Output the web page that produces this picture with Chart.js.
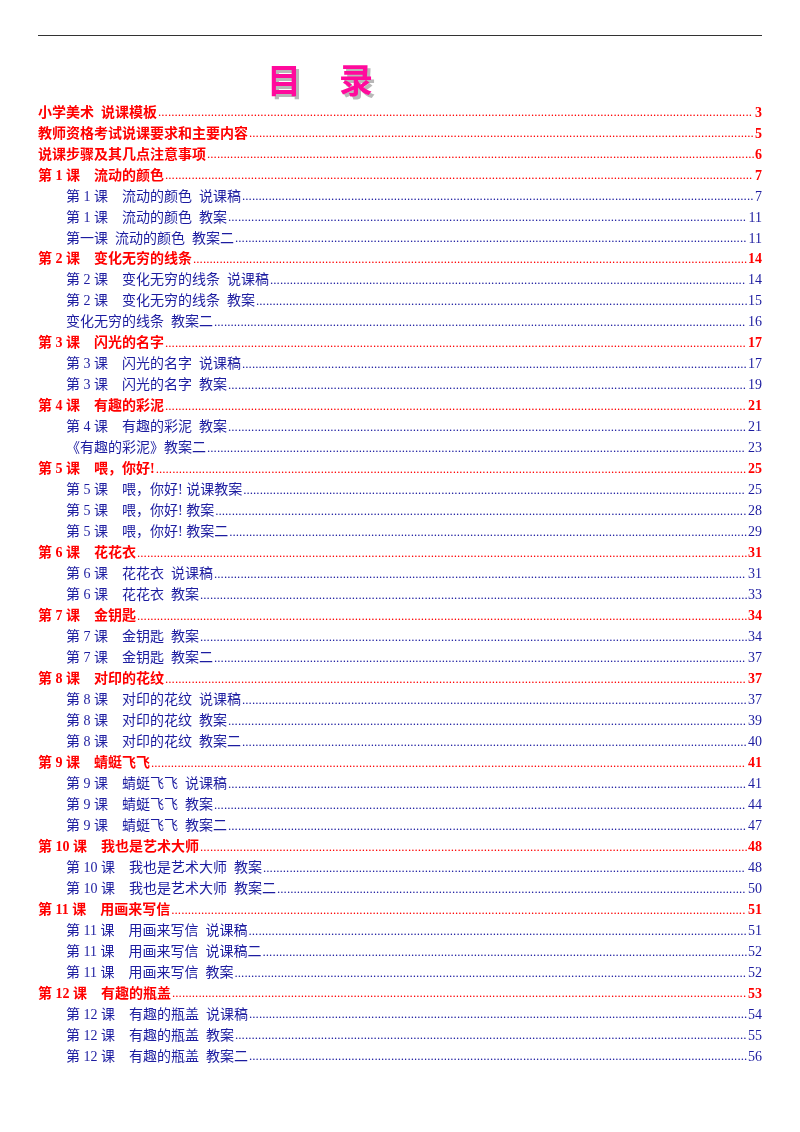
<!DOCTYPE html>
<html>
<head>
<meta charset="utf-8">
<script src="https://cdn.jsdelivr.net/npm/chart.js@4"></script>
<style>
  body { margin: 0; background: #fff; }
  canvas { display: block; }
</style>
</head>
<body>
<canvas id="toc" width="800" height="1132"></canvas>
<script>
// table of contents entries
const titles = [
  '小学美术  说课模板', '教师资格考试说课要求和主要内容', '说课步骤及其几点注意事项',
  '第 1 课    流动的颜色', '第 1 课    流动的颜色  说课稿', '第 1 课    流动的颜色  教案', '第一课  流动的颜色  教案二',
  '第 2 课    变化无穷的线条', '第 2 课    变化无穷的线条  说课稿', '第 2 课    变化无穷的线条  教案', '变化无穷的线条  教案二',
  '第 3 课    闪光的名字', '第 3 课    闪光的名字  说课稿', '第 3 课    闪光的名字  教案',
  '第 4 课    有趣的彩泥', '第 4 课    有趣的彩泥  教案', '《有趣的彩泥》教案二',
  '第 5 课    喂，你好!', '第 5 课    喂，你好! 说课教案', '第 5 课    喂，你好! 教案', '第 5 课    喂，你好! 教案二',
  '第 6 课    花花衣', '第 6 课    花花衣  说课稿', '第 6 课    花花衣  教案',
  '第 7 课    金钥匙', '第 7 课    金钥匙  教案', '第 7 课    金钥匙  教案二',
  '第 8 课    对印的花纹', '第 8 课    对印的花纹  说课稿', '第 8 课    对印的花纹  教案', '第 8 课    对印的花纹  教案二',
  '第 9 课    蜻蜓飞飞', '第 9 课    蜻蜓飞飞  说课稿', '第 9 课    蜻蜓飞飞  教案', '第 9 课    蜻蜓飞飞  教案二',
  '第 10 课    我也是艺术大师', '第 10 课    我也是艺术大师  教案', '第 10 课    我也是艺术大师  教案二',
  '第 11 课    用画来写信', '第 11 课    用画来写信  说课稿', '第 11 课    用画来写信  说课稿二', '第 11 课    用画来写信  教案',
  '第 12 课    有趣的瓶盖', '第 12 课    有趣的瓶盖  说课稿', '第 12 课    有趣的瓶盖  教案', '第 12 课    有趣的瓶盖  教案二'
];
const pages = [3, 5, 6, 7, 7, 11, 11, 14, 14, 15, 16, 17, 17, 19, 21, 21, 23, 25, 25, 28, 29,
  31, 31, 33, 34, 34, 37, 37, 37, 39, 40, 41, 41, 44, 47, 48, 48, 50, 51, 51, 52, 52, 53, 54, 55, 56];
const levels = [0, 0, 0, 0, 1, 1, 1, 0, 1, 1, 1, 0, 1, 1, 0, 1, 1, 0, 1, 1, 1,
  0, 1, 1, 0, 1, 1, 0, 1, 1, 1, 0, 1, 1, 1, 0, 1, 1, 0, 1, 1, 1, 0, 1, 1, 1];

const tocPlugin = {
  id: 'toc',
  afterDatasetsDraw(chart) {
    const ctx = chart.ctx;
    const yScale = chart.scales.y;
    const area = chart.chartArea;
    ctx.save();

    // top rule
    ctx.strokeStyle = '#333';
    ctx.lineWidth = 1.2;
    ctx.beginPath();
    ctx.moveTo(38, 35.5);
    ctx.lineTo(762, 35.5);
    ctx.stroke();

    // title with shadow
    ctx.font = 'bold 34px "Noto Sans CJK SC"';
    ctx.textBaseline = 'middle';
    ctx.textAlign = 'center';
    [['目', 284], ['录', 356]].forEach(([ch, x]) => {
      ctx.fillStyle = '#b8b8b8';
      ctx.fillText(ch, x + 3, 83);
      ctx.fillStyle = '#ff0a9c';
      ctx.fillText(ch, x, 80);
    });

    titles.forEach((t, i) => {
      const y = yScale.getPixelForValue(i);
      const top = levels[i] === 0;
      const color = top ? '#ff0000' : '#1c1ca0';
      ctx.font = (top ? 'bold ' : '') + '14px "Liberation Serif", "Noto Sans CJK SC"';
      ctx.fillStyle = color;
      ctx.textAlign = 'left';
      const x0 = top ? area.left : area.left + 28;
      ctx.fillText(t, x0, y);
      const tw = ctx.measureText(t).width;
      const num = String(pages[i]);
      const nw = ctx.measureText(num).width;
      ctx.textAlign = 'right';
      ctx.fillText(num, area.right, y);
      // leader dots
      ctx.font = '13px "Liberation Serif"';
      const dw = 3.3;
      ctx.textAlign = 'left';
      for (let x = x0 + tw + 1; x < area.right - nw - dw; x += dw) {
        ctx.fillText('.', x, y);
      }
    });
    ctx.restore();
  }
};

new Chart(document.getElementById('toc'), {
  type: 'scatter',
  data: {
    datasets: [{
      data: pages.map((p, i) => ({ x: p, y: i })),
      pointRadius: 0
    }]
  },
  options: {
    responsive: false,
    animation: false,
    layout: { padding: { top: 113, bottom: 75, left: 38, right: 38 } },
    plugins: { legend: { display: false }, tooltip: { enabled: false } },
    scales: {
      x: { display: false, min: 0, max: 60 },
      y: { display: false, min: 0, max: titles.length - 1, reverse: true }
    }
  },
  plugins: [tocPlugin]
});
</script>
</body>
</html>
